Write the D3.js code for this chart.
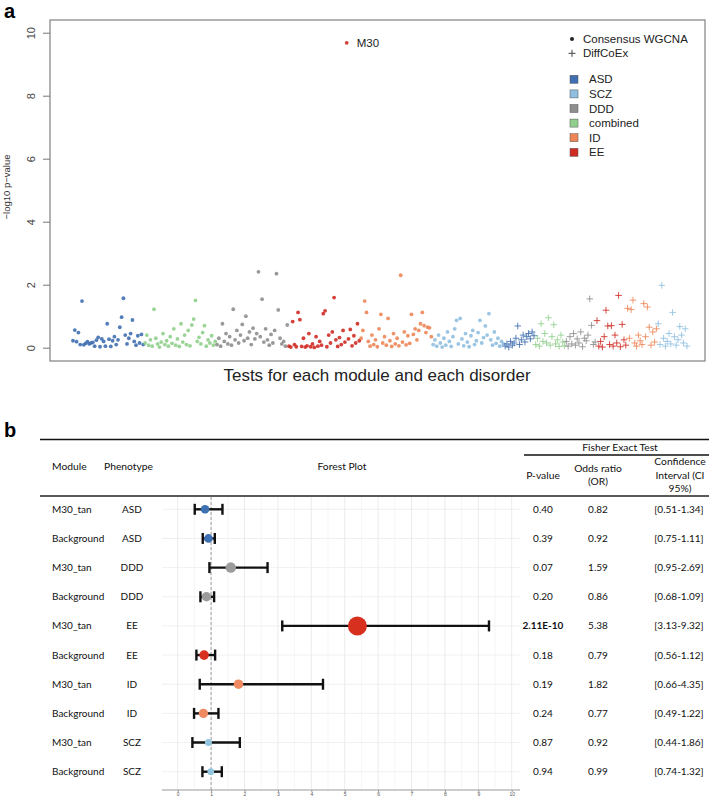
<!DOCTYPE html>
<html><head><meta charset="utf-8">
<script src="https://cdn.jsdelivr.net/npm/d3@7"></script>
<style>body{margin:0;background:#fff}svg{display:block}</style>
</head><body><svg id="c" width="709" height="796"></svg>
<script>
// ---------------- Panel a data ----------------
const disorders = ["ASD","combined","DDD","EE","ID","SCZ"];           // plotting order
const legendDisorders = ["ASD","SCZ","DDD","combined","ID","EE"];     // legend order
const methods = ["Consensus WGCNA","DiffCoEx"];
const colorA = {ASD:"#3f6fb1",SCZ:"#8fbfe0",DDD:"#8e8e8e",combined:"#90cf8c",ID:"#ee8658",EE:"#cf2b25"};

const consASD = [0.22,0.56,0.19,0.48,0.10,1.48,0.09,0.14,0.19,0.12,0.15,0.17,0.05,0.24,0.33,0.03,0.28,0.20,0.05,0.76,0.27,0.04,0.22,0.35,0.10,0.25,0.65,0.97,1.57,0.40,0.12,0.30,0.45,0.88,0.20,0.08,0.38,0.15,0.42,0.10];
const consCombined = [0.15,0.40,0.08,0.25,0.05,1.22,0.30,0.12,0.02,0.18,0.45,0.10,0.22,0.05,0.35,0.14,0.60,0.08,0.28,0.04,0.76,0.18,0.40,0.10,0.55,0.06,0.72,0.91,1.50,0.20,0.33,0.12,0.48,0.70,0.05,0.25,0.15,0.38,0.08,0.20];
const consDDD = [0.10,0.30,0.05,0.76,0.20,0.45,0.12,0.35,0.08,1.22,0.25,0.55,0.15,0.40,0.74,0.22,1.00,0.30,0.50,0.10,0.62,0.28,0.45,2.41,0.35,1.54,0.18,0.60,0.25,0.08,0.42,0.15,0.55,2.35,1.20,0.30,0.12,0.20,0.05,0.72];
const consEE = [0.05,0.02,0.83,0.10,0.03,1.12,0.89,0.04,0.30,0.02,0.06,0.45,0.03,0.12,0.01,0.35,0.05,0.20,0.08,1.08,1.17,0.03,0.40,0.15,0.50,1.59,0.25,0.04,0.32,0.10,0.55,0.18,9.68,0.28,0.58,0.06,0.38,0.15,0.76,0.22];
const consID = [0.30,0.55,1.48,1.12,0.20,0.05,0.40,0.10,0.25,0.03,0.60,1.06,0.15,0.35,0.08,0.93,0.22,0.04,0.45,0.12,0.30,0.06,2.30,0.18,0.50,0.09,0.38,0.14,1.06,0.42,0.60,0.25,0.55,0.76,1.12,0.70,0.48,0.65,0.63,0.35];
const consSCZ = [0.10,0.25,0.05,0.40,0.15,0.02,0.30,0.08,0.50,0.20,0.04,0.35,0.60,0.87,0.12,0.93,0.28,0.06,0.45,0.18,0.03,0.38,0.55,0.10,0.22,0.48,0.87,0.15,0.32,0.69,0.40,1.08,0.25,0.08,0.50,0.14,0.30,0.05,0.20,0.12];

const diffASD = [0.05,0.12,0.02,0.20,0.08,0.15,0.30,0.69,0.10,0.25,0.40,0.18,0.35,0.45,0.28,0.50,0.38];
const diffCombined = [0.10,0.30,0.05,0.76,0.20,0.45,0.15,0.95,0.08,0.35,0.73,0.12,0.25,0.04,0.40,0.18,0.06];
const diffDDD = [0.20,0.05,0.35,0.12,0.45,0.08,0.28,0.15,0.50,0.03,0.30,0.22,0.40,1.55,0.71,0.10,0.18];
const diffEE = [0.86,0.05,0.20,0.02,0.35,1.19,0.69,0.10,0.70,0.05,0.40,0.15,1.66,0.03,0.74,0.25,0.08];
const diffID = [1.25,0.30,1.21,1.51,0.15,0.05,0.40,0.22,0.10,1.40,0.35,1.29,0.65,0.08,0.50,0.18,0.60];
const diffSCZ = [0.76,0.10,1.98,0.30,0.05,0.20,0.45,0.12,1.12,0.35,0.08,0.25,0.67,0.40,0.15,0.60,0.05];

const highlightLabel = "M30";
const yTicksA = [0,2,4,6,8,10];

// ---------------- Panel b data ----------------
const fModules = ["M30_tan","Background","M30_tan","Background","M30_tan","Background","M30_tan","Background","M30_tan","Background"];
const fPhenotypes = ["ASD","ASD","DDD","DDD","EE","EE","ID","ID","SCZ","SCZ"];
const fPText = ["0.40","0.39","0.07","0.20","2.11E-10","0.18","0.19","0.24","0.87","0.94"];
const fP = [0.40,0.39,0.07,0.20,2.11e-10,0.18,0.19,0.24,0.87,0.94];
const fOR = [0.82,0.92,1.59,0.86,5.38,0.79,1.82,0.77,0.92,0.99];
const fLo = [0.51,0.75,0.95,0.68,3.13,0.56,0.66,0.49,0.44,0.74];
const fHi = [1.34,1.11,2.69,1.09,9.32,1.12,4.35,1.22,1.86,1.32];
const forestTicks = [0,1,2,3,4,5,6,7,8,9,10];
const colorB = {ASD:"#3e70b4",DDD:"#9c9c9c",EE:"#d7301f",ID:"#ef8a62",SCZ:"#92c5de"};

// ---------------- build ----------------
const svg = d3.select("#c");
const consSets = {ASD:consASD,combined:consCombined,DDD:consDDD,EE:consEE,ID:consID,SCZ:consSCZ};
const diffSets = {ASD:diffASD,combined:diffCombined,DDD:diffDDD,EE:diffEE,ID:diffID,SCZ:diffSCZ};
const pts = [];
disorders.forEach(d => consSets[d].forEach(v => pts.push({d, m:0, v})));
disorders.forEach(d => diffSets[d].forEach(v => pts.push({d, m:1, v})));
pts.forEach((p,i) => p.i = i);

const fA = "'Liberation Sans', Arial, sans-serif";
const xA = d3.scaleLinear().domain([0, pts.length-1]).range([73, 687]);
const yA = d3.scaleLinear().domain([0, 10]).range([347.7, 32.7]);

svg.append("text").attr("x",4).attr("y",18).attr("font-family",fA).attr("font-weight","bold")
  .attr("font-size",20).text("a");

const gA = svg.append("g");
gA.append("rect").attr("x",50).attr("y",20).attr("width",655).attr("height",341)
  .attr("fill","none").attr("stroke","#8a8a8a").attr("stroke-width",1.3);

const yAxis = gA.append("g").attr("transform","translate(50,0)")
  .call(d3.axisLeft(yA).tickValues(yTicksA).tickSize(7).tickSizeOuter(0));
yAxis.select(".domain").remove();
yAxis.selectAll("line").attr("stroke","#777");
yAxis.selectAll("text").attr("x",0).attr("dy",0).attr("font-family",fA).attr("font-size",11)
  .attr("fill","#444").attr("text-anchor","middle").attr("transform","translate(-15,0) rotate(-90)");

svg.append("text").attr("transform","translate(9.5,187) rotate(-90)").attr("text-anchor","middle")
  .attr("font-family",fA).attr("font-size",9.5).attr("fill","#333").text("\u2212log10 p\u2212value");
svg.append("text").attr("x",377).attr("y",381).attr("text-anchor","middle")
  .attr("font-family",fA).attr("font-size",17).attr("fill","#222").text("Tests for each module and each disorder");

gA.selectAll("circle.pt").data(pts.filter(p=>p.m===0)).join("circle").attr("class","pt")
  .attr("cx",p=>xA(p.i)).attr("cy",p=>yA(p.v)).attr("r",1.9)
  .attr("fill",p=>colorA[p.d]).attr("fill-opacity",0.9);
gA.selectAll("path.pt").data(pts.filter(p=>p.m===1)).join("path").attr("class","pt")
  .attr("d","M-3.3,0H3.3M0,-3.3V3.3").attr("transform",p=>`translate(${xA(p.i)},${yA(p.v)})`)
  .attr("stroke",p=>colorA[p.d]).attr("stroke-width",1).attr("fill","none").attr("stroke-opacity",0.85);

const topPt = pts.reduce((a,b)=> b.v>a.v?b:a);
svg.append("text").attr("x",xA(topPt.i)+10).attr("y",yA(topPt.v)).attr("dy","0.35em")
  .attr("font-family",fA).attr("font-size",11.5).attr("fill","#222").text(highlightLabel);

// legend
const lg = svg.append("g").attr("font-family",fA).attr("font-size",11.5).attr("fill","#222");
lg.append("circle").attr("cx",572).attr("cy",39).attr("r",2).attr("fill","#222");
lg.append("text").attr("x",583).attr("y",39).attr("dy","0.35em").text(methods[0]);
lg.append("path").attr("d","M568.5,53.3H575.5M572,49.8V56.8").attr("stroke","#444").attr("stroke-width",1);
lg.append("text").attr("x",583).attr("y",53.3).attr("dy","0.35em").text(methods[1]);
legendDisorders.forEach((d,k) => {
  const y = 79.3 + k*14.6;
  lg.append("rect").attr("x",570).attr("y",y-4).attr("width",8).attr("height",8)
    .attr("fill",colorA[d]).attr("stroke","#555").attr("stroke-width",0.5);
  lg.append("text").attr("x",589).attr("y",y).attr("dy","0.35em").text(d);
});

// ---------------- Panel b ----------------
const fB = "Lato, 'Open Sans', sans-serif";
svg.append("text").attr("x",4).attr("y",437).attr("font-family",fA).attr("font-weight","bold")
  .attr("font-size",20).text("b");

const gB = svg.append("g").attr("font-family",fB).attr("fill","#111");
gB.append("line").attr("x1",40).attr("x2",709).attr("y1",439.5).attr("y2",439.5).attr("stroke","#111").attr("stroke-width",1.5);
gB.append("line").attr("x1",524).attr("x2",709).attr("y1",455).attr("y2",455).attr("stroke","#111").attr("stroke-width",1.3);
gB.append("line").attr("x1",40).attr("x2",709).attr("y1",496).attr("y2",496).attr("stroke","#222").attr("stroke-width",1.5);

const hdr = (x,y,t,anchor="middle") => gB.append("text").attr("x",x).attr("y",y).attr("dy","0.35em")
  .attr("text-anchor",anchor).attr("font-size",10.3).text(t);
hdr(620,447,"Fisher Exact Test");
hdr(52,466.5,"Module","start");
hdr(104,466.5,"Phenotype","start");
hdr(342,466.5,"Forest Plot");
hdr(543,475,"P-value");
hdr(598,468.3,"Odds ratio");
hdr(598,481.7,"(OR)");
hdr(680,461.7,"Confidence");
hdr(680,475,"Interval (CI");
hdr(680,488.3,"95%)");

const rows = d3.range(fModules.length);
const yB = d3.scalePoint().domain(rows).range([509.3, 771.7]);
const xB = d3.scaleLinear().domain([0,10]).range([177.7, 511.7]);
const rB = d3.scaleSqrt().domain([0, d3.max(fP, p=>-Math.log10(p))]).range([3, 9.5]);

// grid
const grid = gB.append("g");
d3.range(0,10.5,0.5).forEach(t => {
  grid.append("line").attr("x1",xB(t)).attr("x2",xB(t)).attr("y1",497).attr("y2",790)
    .attr("stroke", Number.isInteger(t) ? "#e6e6e6" : "#f3f3f3").attr("stroke-width",0.8);
});
rows.forEach(i => grid.append("line").attr("x1",162).attr("x2",520).attr("y1",yB(i)).attr("y2",yB(i))
  .attr("stroke","#ececec").attr("stroke-width",0.8));
grid.append("line").attr("x1",xB(1)).attr("x2",xB(1)).attr("y1",497).attr("y2",790)
  .attr("stroke","#aaa").attr("stroke-width",1.1).attr("stroke-dasharray","3,2");

const xAxisB = gB.append("g").attr("transform","translate(0,790)")
  .call(d3.axisBottom(xB).tickValues(forestTicks).tickSize(2).tickSizeOuter(0).tickFormat(d3.format("d")));
xAxisB.select(".domain").attr("d","M162,0H520").attr("stroke","#999");
xAxisB.selectAll("line").attr("stroke","#999");
xAxisB.selectAll("text").attr("font-size",5).attr("fill","#555").attr("y",3).attr("dy","0.5em");

// error bars
rows.forEach(i => {
  const y = yB(i), g = gB.append("g").attr("stroke","#111").attr("stroke-width",2.4);
  g.append("line").attr("x1",xB(fLo[i])).attr("x2",xB(fHi[i])).attr("y1",y).attr("y2",y);
  g.append("line").attr("x1",xB(fLo[i])).attr("x2",xB(fLo[i])).attr("y1",y-5.5).attr("y2",y+5.5);
  g.append("line").attr("x1",xB(fHi[i])).attr("x2",xB(fHi[i])).attr("y1",y-5.5).attr("y2",y+5.5);
});
gB.selectAll("circle.or").data(rows).join("circle").attr("class","or")
  .attr("cx",i=>xB(fOR[i])).attr("cy",i=>yB(i)).attr("r",i=>rB(-Math.log10(fP[i])))
  .attr("fill",i=>colorB[fPhenotypes[i]]);

// table texts
const cell = (x,i,t,anchor,bold) => gB.append("text").attr("x",x).attr("y",yB(i)).attr("dy","0.35em")
  .attr("text-anchor",anchor).attr("font-size",10).attr("font-weight",bold?"bold":"normal").text(t);
rows.forEach(i => {
  cell(52,i,fModules[i],"start");
  cell(132,i,fPhenotypes[i],"middle");
  cell(543,i,fPText[i],"middle", fP[i] < 0.05);
  cell(598,i,fOR[i].toFixed(2),"middle");
  cell(679,i,`[${fLo[i].toFixed(2)}-${fHi[i].toFixed(2)}]`,"middle");
});
</script></body></html>
